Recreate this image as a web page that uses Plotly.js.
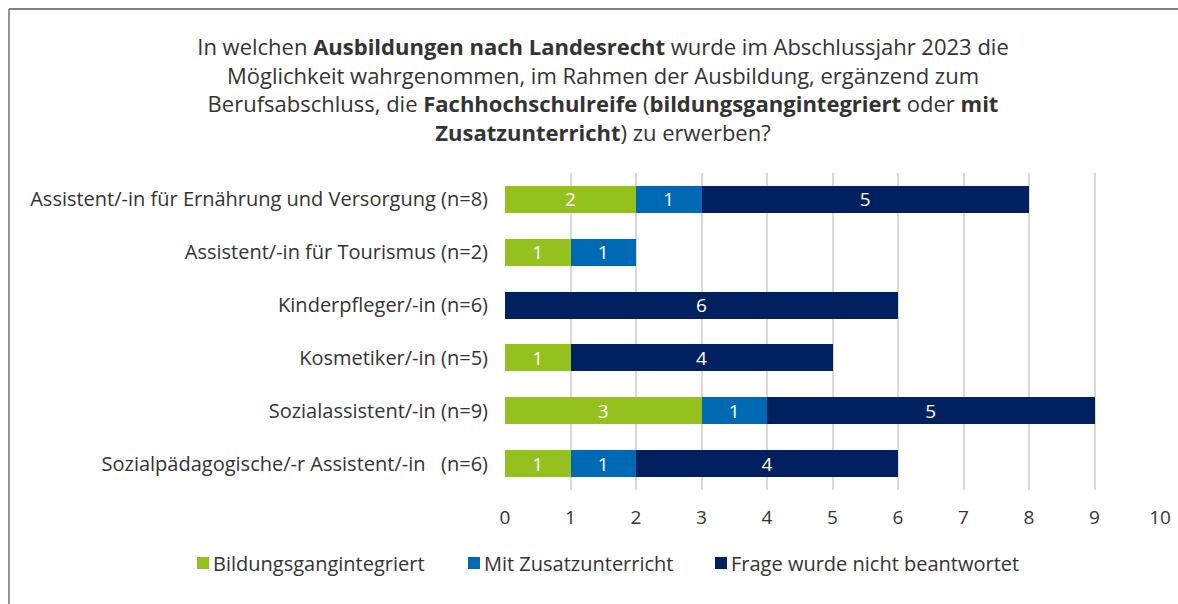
<!DOCTYPE html>
<html><head><meta charset="utf-8">
<script src="https://cdn.plot.ly/plotly-3.0.1.min.js"></script>
<style>html,body{margin:0;padding:0;background:#fff}#chart{width:1178px;height:604px}</style>
</head><body><div id="chart"></div>
<script>
const categories = [
  "Assistent/-in für Ernährung und Versorgung (n=8)",
  "Assistent/-in für Tourismus (n=2)",
  "Kinderpfleger/-in (n=6)",
  "Kosmetiker/-in (n=5)",
  "Sozialassistent/-in (n=9)",
  "Sozialpädagogische/-r Assistent/-in\u00a0\u00a0\u00a0(n=6)"
];
const seriesNames = ["Bildungsgangintegriert", "Mit Zusatzunterricht", "Frage wurde nicht beantwortet"];
const bildungsgangintegriert = [2, 1, null, 1, 3, 1];
const mitZusatzunterricht = [1, 1, null, null, 1, 1];
const nichtBeantwortet = [5, null, 6, 4, 5, 4];
const xTicks = [0,1,2,3,4,5,6,7,8,9,10];
const colors = ["#95c11f", "#0069b4", "#002060"];

const FONT = "Open Sans, sans-serif";
const txt = "#333333";
const legendIds = ["legend", "legend2", "legend3"];
function mk(vals, i) {
  return {
    type: "bar", orientation: "h", name: seriesNames[i],
    y: categories, x: vals, legend: legendIds[i], showlegend: true,
    marker: {color: colors[i], line: {width: 0}},
    text: vals.map(v => v == null ? "" : String(v)),
    textposition: "inside", insidetextanchor: "middle", textangle: 0,
    constraintext: "none",
    textfont: {color: "#ffffff", size: 19, family: FONT},
    hoverinfo: "x+name"
  };
}
const data = [mk(bildungsgangintegriert,0), mk(mitZusatzunterricht,1), mk(nichtBeantwortet,2)];
const PL = 505, PR = 1160, PT = 173, PB = 490;
const pw = PR - PL, ph = PB - PT;
const bx = 9, by = 9;
const legendLeft = [173, 444, 691];
const legendY = 563;
const layout = {
  width: 1178, height: 604, showlegend: true,
  paper_bgcolor: "#fff", plot_bgcolor: "#fff",
  font: {family: FONT, color: txt, size: 19},
  barmode: "stack", bargap: 0.49,
  margin: {l: PL, r: 1178 - PR, t: PT, b: 604 - PB},
  title: {
    text: "In welchen <b>Ausbildungen nach Landesrecht</b> wurde im Abschlussjahr 2023 die<br>Möglichkeit wahrgenommen, im Rahmen der Ausbildung, ergänzend zum<br>Berufsabschluss, die <b>Fachhochschulreife</b> (<b>bildungsgangintegriert</b> oder <b>mit</b><br><b>Zusatzunterricht</b>) zu erwerben?",
    xref: "container", yref: "container",
    x: 603/1178, xanchor: "center", y: 1 - 55/604, yanchor: "top",
    font: {size: 22, color: txt, family: FONT}
  },
  xaxis: {
    range: [0, 10], tickvals: xTicks, ticktext: xTicks.map(String),
    showgrid: true, gridcolor: "#d9d9d9", gridwidth: 2,
    zeroline: false, showline: false, ticks: "", ticklabelstandoff: 14,
    tickfont: {size: 19, color: txt}, fixedrange: true
  },
  yaxis: {
    autorange: "reversed", showgrid: false, zeroline: false, showline: false,
    ticks: "", ticklabelstandoff: 16, tickfont: {size: 20, color: txt}, fixedrange: true
  },
  shapes: [
    {type:"line", xref:"paper", yref:"paper", x0:(bx-PL)/pw, x1:(1178-PL)/pw, y0:(PB-by)/ph, y1:(PB-by)/ph, line:{color:"#595959", width:1.3}},
    {type:"line", xref:"paper", yref:"paper", x0:(bx-PL)/pw, x1:(bx-PL)/pw, y0:(PB-by)/ph, y1:(PB-604)/ph, line:{color:"#595959", width:1.3}}
  ]
};
legendIds.forEach(function(id, i){
  layout[id] = {
    orientation: "h", xref: "container", yref: "container", visible: true,
    x: legendLeft[i]/1178, xanchor: "left", y: 1 - legendY/604, yanchor: "middle",
    font: {size: 20, color: txt}, itemwidth: 30, bgcolor: "rgba(0,0,0,0)"
  };
});
Plotly.newPlot("chart", data, layout, {displayModeBar: false, staticPlot: true}).then(function(){
  // tighten gap between legend swatch and its label, as in the original
  document.querySelectorAll(".legendpoints").forEach(function(g){
    g.setAttribute("transform", "translate(10,0)");
  });
});
</script>
</body></html>
